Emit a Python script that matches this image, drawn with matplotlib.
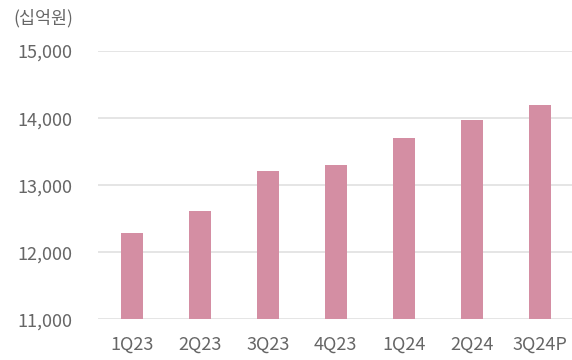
import matplotlib.pyplot as plt
from matplotlib.ticker import FuncFormatter

plt.rcParams['font.family'] = ['Noto Sans CJK KR', 'DejaVu Sans']

quarters = ["1Q23", "2Q23", "3Q23", "4Q23", "1Q24", "2Q24", "3Q24P"]
values = [12280, 12620, 13210, 13300, 13700, 13975, 14200]
yticks = [11000, 12000, 13000, 14000, 15000]

bar_color = "#d48ea3"
text_color = "#666666"

fig = plt.figure(figsize=(5.72, 3.6), dpi=100)
ax = fig.add_axes([0.171, 0.113, 0.832, 0.745])

x = range(len(quarters))
ax.bar(x, values, width=0.33, color=bar_color, zorder=3)

ax.set_ylim(11000, 15000)
ax.set_xlim(-0.5, 6.5)
ax.set_yticks(yticks)
ax.yaxis.set_major_formatter(FuncFormatter(lambda v, p: f"{v:,.0f}"))
ax.set_xticks(list(x))
ax.set_xticklabels(quarters)

ax.grid(axis="y", color="#e0e0e0", linewidth=1.2, zorder=0)
for s in ax.spines.values():
    s.set_visible(False)
ax.tick_params(axis="y", length=0, pad=18, labelsize=13, labelcolor=text_color)
ax.tick_params(axis="x", length=0, pad=12, labelsize=13, labelcolor=text_color)

fig.text(73 / 572, 1 - 18 / 360, "(십억원)", ha="right", va="center",
         fontsize=12.5, color=text_color)

fig.savefig("out.png", dpi=100, facecolor="white")
